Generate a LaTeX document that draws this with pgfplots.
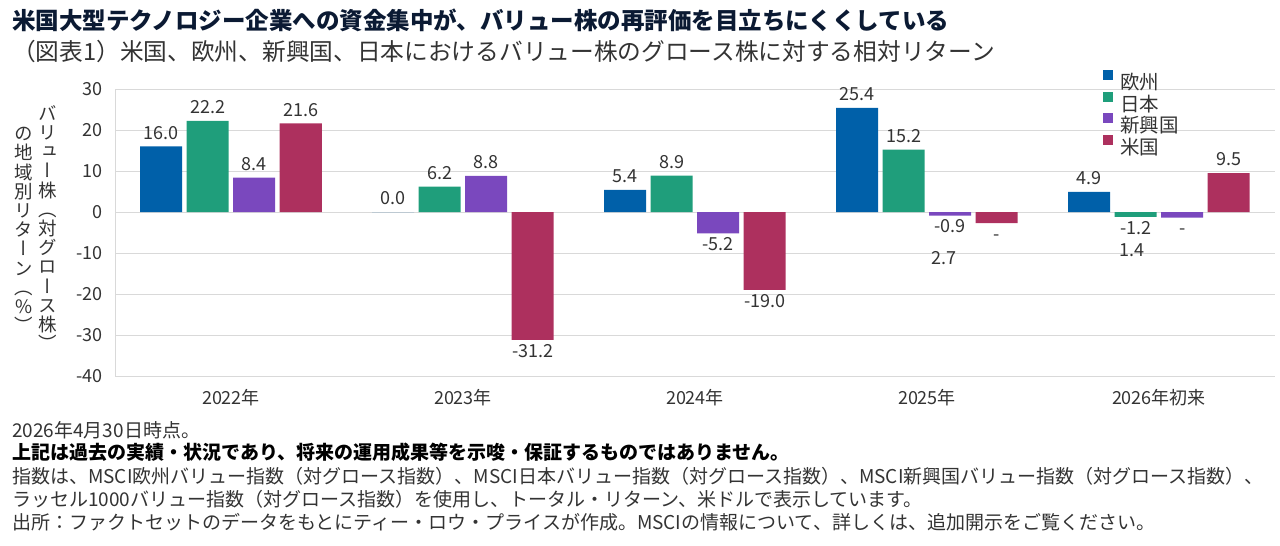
\documentclass[border=0pt]{standalone}
\usepackage{fontspec}
\setmainfont{Noto Sans CJK JP}
\newfontfamily\vertfont[RawFeature=+vert]{Noto Sans CJK JP}
\usepackage{pgfplots}
\pgfplotsset{compat=1.18}
\definecolor{cEU}{HTML}{0060A9}
\definecolor{cJP}{HTML}{1F9E7B}
\definecolor{cEM}{HTML}{7A48BE}
\definecolor{cUS}{HTML}{AD305E}
\definecolor{ctitle}{HTML}{0B1A33}
\definecolor{ctext}{HTML}{333333}
\definecolor{cgrid}{HTML}{D9D9D9}
\pgfplotsset{sqlegend/.style={legend image code/.code={\fill[##1] (0pt,2pt) rectangle (10pt,12pt);}}}
\begin{document}
\begin{tikzpicture}[x=1pt,y=1pt]
\path[use as bounding box] (0,0) rectangle (1280,546);
\node[anchor=west, inner sep=0pt, text=ctitle, font=\bfseries\fontsize{23.5}{23.5}\selectfont] at (12,526) {米国大型テクノロジー企業への資金集中が、バリュー株の再評価を目立ちにくくしている};
\node[anchor=west, inner sep=0pt, text=ctext, font=\fontsize{23.7}{23.7}\selectfont] at (12,494) {（図表1）米国、欧州、新興国、日本におけるバリュー株のグロース株に対する相対リターン};
\node[inner sep=0pt, align=center, text=ctext, font={\vertfont\fontsize{18.5}{19.2}\selectfont\lineskiplimit=-20pt}] at (48,318) {バ\\リ\\ュ\\ー\\株\\（\\対\\グ\\ロ\\ー\\ス\\株\\）};
\node[inner sep=0pt, align=center, text=ctext, font={\vertfont\fontsize{18.5}{19.2}\selectfont\lineskiplimit=-20pt}] at (24,316) {の\\地\\域\\別\\リ\\タ\\ー\\ン\\（\\\%\\）};
\begin{scope}[every node/.style={anchor=west, inner sep=0pt, text=ctext, font=\fontsize{19}{19}\selectfont}]
\node at (12,116) {2026年4月30日時点。};
\node[font=\bfseries\fontsize{19}{19}\selectfont, text=black] at (12,94) {上記は過去の実績・状況であり、将来の運用成果等を示唆・保証するものではありません。};
\node at (12,70) {指数は、MSCI欧州バリュー指数（対グロース指数）、MSCI日本バリュー指数（対グロース指数）、MSCI新興国バリュー指数（対グロース指数）、};
\node at (12,47) {ラッセル1000バリュー指数（対グロース指数）を使用し、トータル・リターン、米ドルで表示しています。};
\node at (12,24) {出所：ファクトセットのデータをもとにティー・ロウ・プライスが作成。MSCIの情報について、詳しくは、追加開示をご覧ください。};
\end{scope}
\begin{axis}[
  at={(115pt,170pt)}, anchor=south west, scale only axis,
  width=1160pt, height=287pt,
  xmin=-0.5, xmax=4.5, ymin=-40, ymax=30,
  ybar=4.5pt, bar width=42pt,
  axis x line*=bottom, axis y line*=left,
  axis line style={cgrid, line width=0.8pt},
  major tick length=0pt,
  ymajorgrids, grid style={cgrid, line width=0.8pt},
  ytick={-40,-30,-20,-10,0,10,20,30},
  yticklabels={-40,-30,-20,-10,0,10,20,30},
  xtick={0,1,2,3,4},
  xticklabels={2022年,2023年,2024年,2025年,2026年初来},
  tick label style={font=\fontsize{18}{18}\selectfont, text=ctext},
  yticklabel style={inner sep=0pt, xshift=-12pt},
  xticklabel style={inner sep=0pt, yshift=-13pt},
  point meta=explicit symbolic,
  visualization depends on={y \as \rawy},
  nodes near coords={\pgfplotspointmeta},
  every node near coord/.append style={font=\fontsize{18}{18}\selectfont, text=ctext, inner xsep=0pt, inner ysep=4pt, text height=13pt, text depth=3pt,
    /utils/exec={\pgfmathparse{\rawy<0 ? 1 : 0}\ifdim\pgfmathresult pt>0.5pt \pgfkeysalso{anchor=north}\else\pgfkeysalso{anchor=south}\fi}},
  legend style={at={(0.8517,1.066)}, anchor=north west, draw=none, fill=none, inner sep=0pt, row sep=0.6pt,
    font=\fontsize{19.5}{19.5}\selectfont, text=ctext, nodes={inner sep=0pt},
    /tikz/every odd column/.append style={column sep=7pt}},
  legend cell align=left,
]
\addplot[fill=cEU, draw=none, sqlegend] coordinates {(0,16.0) [16.0] (1,0.0) [0.0] (2,5.4) [5.4] (3,25.4) [25.4] (4,4.9) [4.9]};
\addplot[fill=cJP, draw=none, sqlegend] coordinates {(0,22.2) [22.2] (1,6.2) [6.2] (2,8.9) [8.9] (3,15.2) [15.2] (4,-1.2) [-1.2]};
\addplot[fill=cEM, draw=none, sqlegend] coordinates {(0,8.4) [8.4] (1,8.8) [8.8] (2,-5.2) [-5.2] (3,-0.9) [-0.9] (4,-1.4) [-]};
\addplot[fill=cUS, draw=none, sqlegend] coordinates {(0,21.6) [21.6] (1,-31.2) [-31.2] (2,-19.0) [-19.0] (3,-2.7) [-] (4,9.5) [9.5]};
\legend{欧州,日本,新興国,米国}
\node[anchor=west, inner sep=0pt, font=\fontsize{18}{18}\selectfont, text=ctext] at (axis cs:3.017,-11.2) {2.7};
\node[anchor=west, inner sep=0pt, font=\fontsize{18}{18}\selectfont, text=ctext] at (axis cs:3.828,-9.27) {1.4};
\end{axis}
\end{tikzpicture}
\end{document}
